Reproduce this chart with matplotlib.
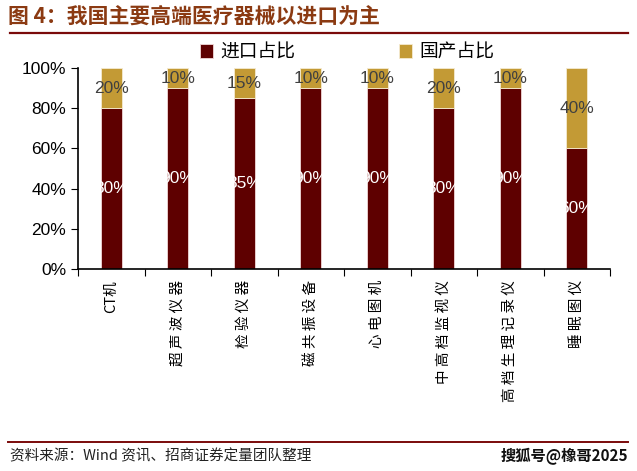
import matplotlib.pyplot as plt
import numpy as np

plt.rcParams['font.family'] = ['Liberation Sans', 'Noto Sans CJK SC', 'DejaVu Sans']

categories = ['CT机', '超声波仪器', '检验仪器', '磁共振设备', '心电图机',
              '中高档监视仪', '高档生理记录仪', '睡眠图仪']
importShare = [80, 90, 85, 90, 90, 80, 90, 60]
domesticShare = [20, 10, 15, 10, 10, 20, 10, 40]
seriesNames = ['进口占比', '国产占比']

cImport = '#5e0000'
cDomestic = '#c39a35'

fig = plt.figure(figsize=(6.37, 4.71), dpi=100)
ax = fig.add_axes([78 / 637, 1 - 269 / 471, 532 / 637, 201 / 471])

x = np.arange(len(categories))
w = 0.31
b1 = ax.bar(x, importShare, w, color=cImport, edgecolor='#f0d8d8', linewidth=0.6,
            label=seriesNames[0])
b2 = ax.bar(x, domesticShare, w, bottom=importShare, color=cDomestic,
            edgecolor='#f5ead0', linewidth=0.6, label=seriesNames[1])

for i in range(len(categories)):
	ax.text(x[i], importShare[i] / 2, '%d%%' % importShare[i], ha='center', va='center',
	        color='white', fontsize=12.5)
	ax.text(x[i], importShare[i] + domesticShare[i] / 2, '%d%%' % domesticShare[i],
	        ha='center', va='center', color='#404040', fontsize=12.5)

# spaced out vertical labels like the original
spaced = [c if c.startswith('CT') else ' '.join(c) for c in categories]

ax.set_xlim(-0.5, len(categories) - 0.5)
ax.set_ylim(0, 100)
ax.set_yticks(range(0, 101, 20))
ax.set_yticklabels(['%d%%' % v for v in range(0, 101, 20)], fontsize=12.5)
ax.set_xticks(np.arange(len(categories) + 1) - 0.5)
ax.set_xticklabels([])
ax.set_xticks(x, minor=True)
ax.set_xticklabels(spaced, minor=True, rotation=90, fontsize=10.5,
                   family=['Noto Sans CJK SC', 'DejaVu Sans'])
ax.tick_params(axis='x', which='minor', length=0, pad=8)
ax.tick_params(axis='x', which='major', length=5, direction='out')
ax.tick_params(axis='y', length=5, direction='out')
for s in ['top', 'right']:
	ax.spines[s].set_visible(False)
for s in ['left', 'bottom']:
	ax.spines[s].set_linewidth(1.2)

leg = fig.legend(handles=[b1, b2], loc='center', bbox_to_anchor=(0.545, 1 - 52 / 471), ncol=2,
                 frameon=False, handlelength=0.7, handleheight=0.7, columnspacing=5.5,
                 handletextpad=0.4, prop={'family': ['Noto Sans CJK SC'], 'size': 13.5})

fig.text(8 / 637, 1 - 16 / 471, '图 4：我国主要高端医疗器械以进口为主', fontsize=15,
         fontweight='bold', color='#8b3a12', va='center', family=['Noto Sans CJK SC'])
fig.add_artist(plt.Line2D([10 / 637, 628 / 637], [1 - 33 / 471, 1 - 33 / 471],
                          color='#7a0a0a', linewidth=1.6))
fig.add_artist(plt.Line2D([8 / 637, 628 / 637], [1 - 442 / 471, 1 - 442 / 471],
                          color='#7a0a0a', linewidth=1.4))
fig.text(10 / 637, 1 - 456 / 471, '资料来源：Wind 资讯、招商证券定量团队整理', fontsize=10.5,
         color='#222222', va='center', family=['Noto Sans CJK SC', 'DejaVu Sans'])
fig.text(628 / 637, 1 - 456 / 471, '搜狐号@橡哥2025', fontsize=11, fontweight='bold',
         color='#111111', va='center', ha='right', family=['Noto Sans CJK SC', 'DejaVu Sans'])

fig.savefig('out.png', dpi=100)
